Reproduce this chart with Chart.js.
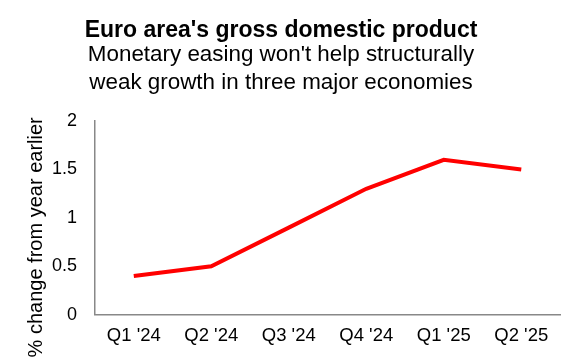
<!DOCTYPE html>
<html>
<head>
<meta charset="utf-8">
<script src="https://cdn.jsdelivr.net/npm/chart.js@4"></script>
<style>
	body { margin: 0; background: #fff; }
	#wrap { width: 580px; height: 360px; }
</style>
</head>
<body>
<div id="wrap"><canvas id="chart"></canvas></div>
<script>
const quarters = ["Q1 '24", "Q2 '24", "Q3 '24", "Q4 '24", "Q1 '25", "Q2 '25"];
const gdpGrowth = [0.4, 0.5, 0.9, 1.3, 1.6, 1.5];
const yTicks = [0, 0.5, 1, 1.5, 2];

const font = "'Liberation Sans', Arial, sans-serif";

new Chart(document.getElementById('chart'), {
	type: 'line',
	data: {
		labels: quarters,
		datasets: [
			{
				label: 'GDP',
				data: gdpGrowth,
				borderColor: '#ff0000',
				borderWidth: 4,
				pointRadius: 0,
				tension: 0,
			},
		],
	},
	options: {
		responsive: true,
		maintainAspectRatio: false,
		animation: false,
		layout: { padding: { left: 2, right: 20, top: 19, bottom: 3 } },
		plugins: {
			legend: { display: false },
			tooltip: { enabled: false },
			title: {
				display: true,
				text: "Euro area's gross domestic product",
				color: '#000',
				font: { family: font, size: 23, weight: 'bold', lineHeight: 1 },
				padding: { top: 0, bottom: 0 },
			},
			subtitle: {
				display: true,
				text: ["Monetary easing won't help structurally", "weak growth in three major economies"],
				color: '#000',
				font: { family: font, size: 22.4, lineHeight: 1.25 },
				padding: { top: -1, bottom: 24 },
			},
		},
		scales: {
			x: {
				offset: true,
				grid: { display: false, drawTicks: false },
				border: { color: '#888', width: 1.5 },
				ticks: { color: '#000', font: { family: font, size: 18.5 }, padding: 10, maxRotation: 0 },
			},
			y: {
				min: 0,
				max: 2,
				afterBuildTicks: axis => { axis.ticks = yTicks.map(v => ({ value: v })); },
				grid: { display: false, drawTicks: false },
				border: { color: '#888', width: 1.5 },
				ticks: { color: '#000', font: { family: font, size: 18 }, padding: 18, callback: v => String(v) },
				title: {
					display: true,
					// trailing spaces push the visible text down, as in the source chart
					text: '% change from year earlier       ',
					color: '#000',
					font: { family: font, size: 20 },
					padding: { top: 22.5, bottom: -14.5 },
				},
			},
		},
	},
});
</script>
</body>
</html>
